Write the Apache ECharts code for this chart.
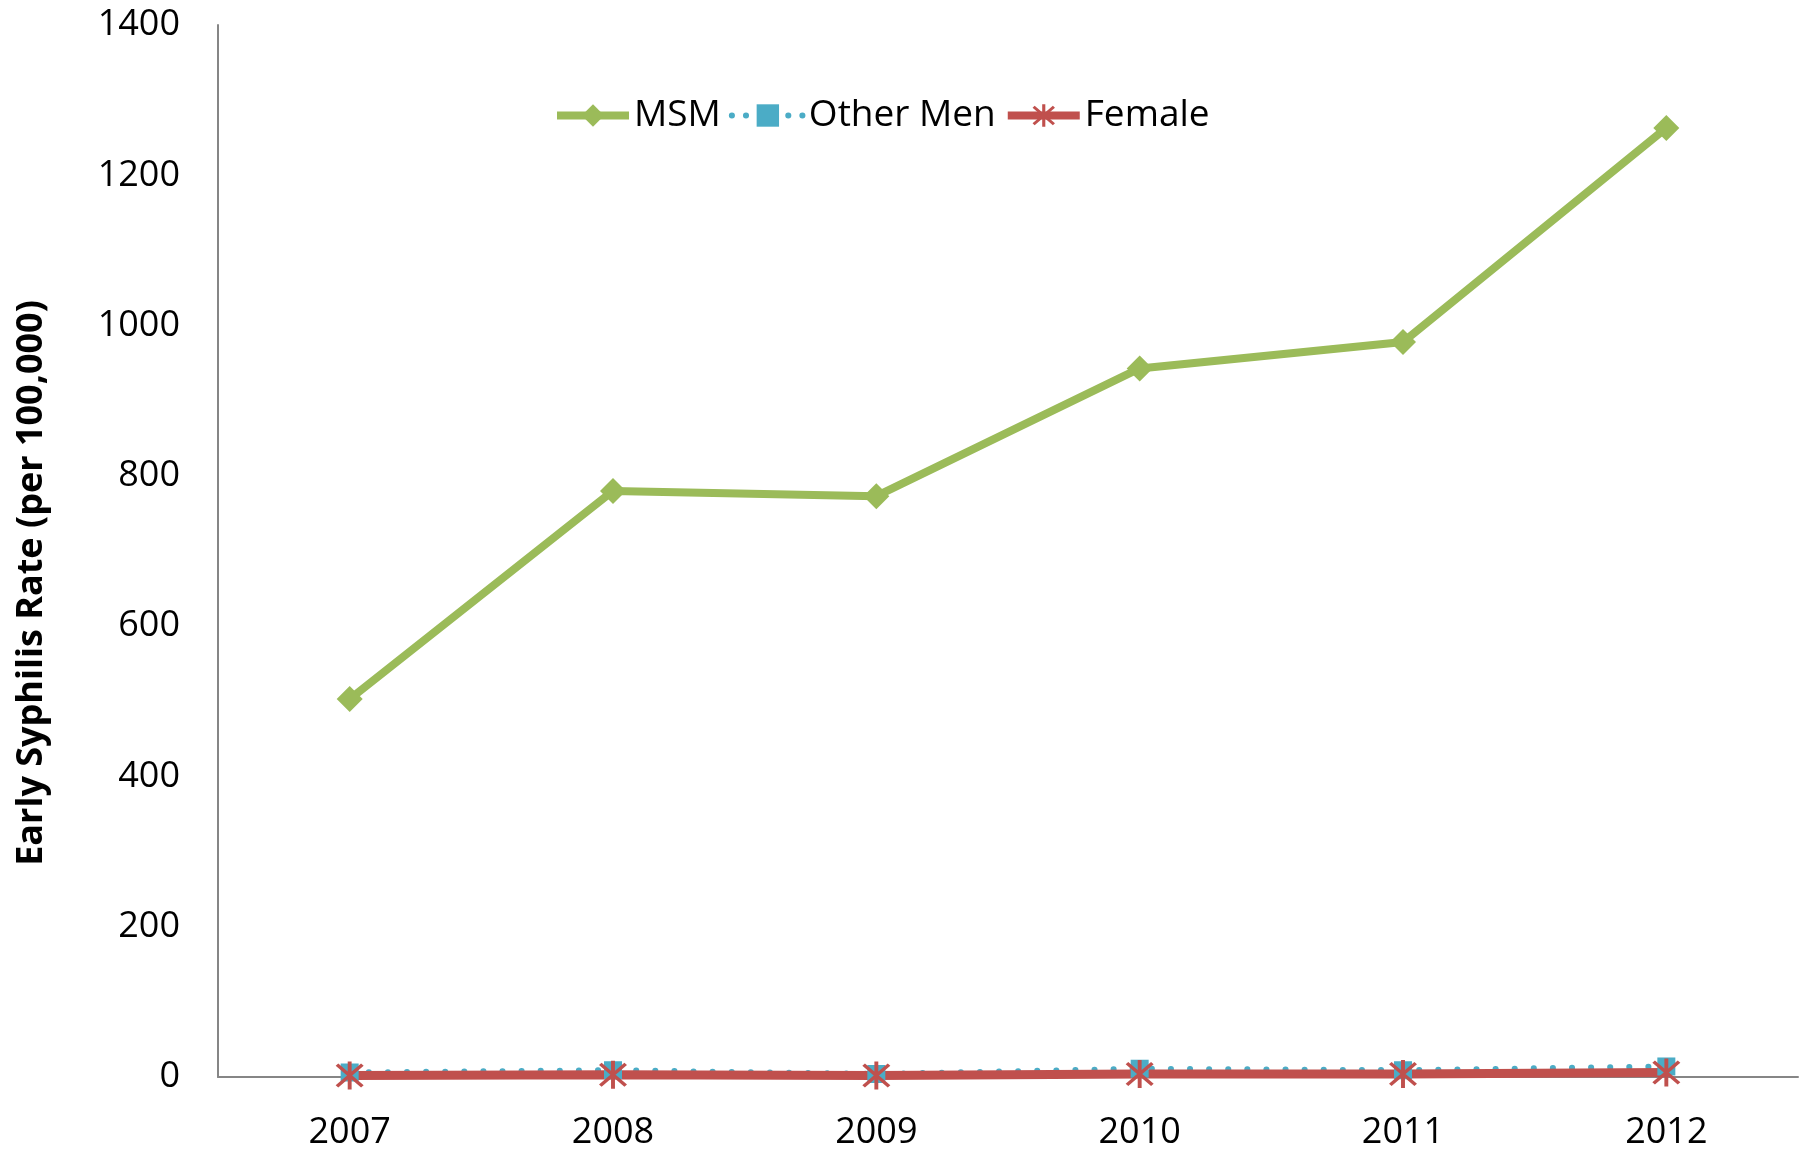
<!DOCTYPE html>
<html>
<head>
<meta charset="utf-8">
<script src="https://cdn.jsdelivr.net/npm/echarts@6/dist/echarts.min.js"></script>
<style>
  html, body { margin: 0; padding: 0; background: #fff; }
  #chart { width: 1812px; height: 1152px; }
</style>
</head>
<body>
<div id="chart"></div>
<script>
  const years = ['2007', '2008', '2009', '2010', '2011', '2012']
  const msm = [503, 780, 773, 943, 978, 1263]
  const otherMen = [6, 9, 4, 11, 9, 14]
  const female = [2, 3, 2, 4, 4, 6]
  const yTicks = { min: 0, max: 1400, interval: 200 }

  // asterisk marker like the spreadsheet "star" marker
  const asterisk = 'path://M-1.2,-10L1.2,-10L1.2,10L-1.2,10Z' +
    'M-8.6,-7L-7,-8.6L8.6,7L7,8.6Z' +
    'M7,-8.6L8.6,-7L-7,8.6L-8.6,7Z'

  const fontFamily = '"Open Sans", sans-serif'
  const chart = echarts.init(document.getElementById('chart'))
  chart.setOption({
    animation: false,
    grid: { left: 218, right: 14, top: 25, bottom: 75 },
    legend: {
      left: 548,
      top: 92,
      itemWidth: 72,
      itemHeight: 28,
      itemGap: 8,
      textStyle: { fontFamily: fontFamily, fontSize: 37, color: '#000' },
      data: [
        { name: 'MSM', lineStyle: { width: 8 } },
        { name: 'Other Men', lineStyle: { width: 6, type: [0.1, 14], cap: 'round' } },
        { name: 'Female', lineStyle: { width: 8 } }
      ]
    },
    xAxis: {
      type: 'category',
      data: years,
      boundaryGap: true,
      axisLine: { lineStyle: { color: '#868686', width: 2 } },
      axisTick: { show: false },
      axisLabel: { fontFamily: fontFamily, fontSize: 36, color: '#000', margin: 38 }
    },
    yAxis: {
      type: 'value',
      min: yTicks.min,
      max: yTicks.max,
      interval: yTicks.interval,
      name: 'Early Syphilis Rate (per 100,000)',
      nameLocation: 'middle',
      nameGap: 168,
      nameTextStyle: {
        fontFamily: fontFamily, fontSize: 36, fontWeight: 'bold', color: '#000',
        padding: [0, 64, 0, 0]
      },
      splitLine: { show: false },
      axisLine: { show: true, lineStyle: { color: '#868686', width: 2 } },
      axisTick: { show: false },
      axisLabel: {
        fontFamily: fontFamily, fontSize: 36, color: '#000', margin: 38,
        formatter: (v) => String(v)
      }
    },
    series: [
      {
        name: 'MSM',
        type: 'line',
        data: msm,
        symbol: 'diamond',
        symbolSize: 26,
        itemStyle: { color: '#9bbb59' },
        lineStyle: { color: '#9bbb59', width: 8 }
      },
      {
        name: 'Other Men',
        type: 'line',
        data: otherMen,
        symbol: 'rect',
        symbolSize: 18,
        itemStyle: { color: '#4bacc6' },
        lineStyle: { color: '#4bacc6', width: 6, type: [0.1, 19], cap: 'round' }
      },
      {
        name: 'Female',
        type: 'line',
        data: female,
        symbol: asterisk,
        symbolSize: 28,
        itemStyle: { color: '#c0504d' },
        lineStyle: { color: '#c0504d', width: 9 }
      }
    ]
  })
</script>
</body>
</html>
